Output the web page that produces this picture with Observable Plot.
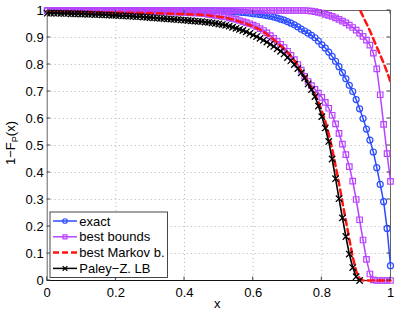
<!DOCTYPE html>
<html>
<head>
<meta charset="utf-8">
<script src="https://cdn.jsdelivr.net/npm/d3@7"></script>
<script src="https://cdn.jsdelivr.net/npm/@observablehq/plot@0.6"></script>
<style>
  html, body { margin: 0; padding: 0; background: #fff; }
</style>
</head>
<body>
<div id="chart"></div>
<script>
// ---- data ----
const xGrid = [0,0.01,0.02,0.03,0.04,0.05,0.06,0.07,0.08,0.09,
  0.1,0.11,0.12,0.13,0.14,0.15,0.16,0.17,0.18,0.19,
  0.2,0.21,0.22,0.23,0.24,0.25,0.26,0.27,0.28,0.29,
  0.3,0.31,0.32,0.33,0.34,0.35,0.36,0.37,0.38,0.39,
  0.4,0.41,0.42,0.43,0.44,0.45,0.46,0.47,0.48,0.49,
  0.5,0.51,0.52,0.53,0.54,0.55,0.56,0.57,0.58,0.59,
  0.6,0.61,0.62,0.63,0.64,0.65,0.66,0.67,0.68,0.69,
  0.7,0.71,0.72,0.73,0.74,0.75,0.76,0.77,0.78,0.79,
  0.8,0.81,0.82,0.83,0.84,0.85,0.86,0.87,0.88,0.89,
  0.9,0.91,0.92,0.93,0.94,0.95,0.96,0.97,0.98,0.99,1];

const exactY = [1,1,1,1,1,1,1,1,1,1,
  1,1,1,1,1,1,1,1,1,1,
  1,1,1,1,1,1,1,1,1,1,
  1,1,1,1,1,1,1,1,1,1,
  1,1,1,1,1,1,1,0.999,0.999,0.999,
  0.999,0.998,0.998,0.997,0.996,0.995,0.994,0.993,0.992,0.990,
  0.988,0.987,0.985,0.983,0.981,0.979,0.976,0.972,0.968,0.964,
  0.959,0.953,0.947,0.939,0.931,0.924,0.916,0.908,0.899,0.887,
  0.873,0.861,0.846,0.830,0.812,0.792,0.770,0.747,0.723,0.700,
  0.670,0.636,0.600,0.561,0.520,0.476,0.418,0.356,0.292,0.193,0.055];

const boundsUpperY = [1,1,1,1,1,1,1,1,1,1,
  1,1,1,1,1,1,1,1,1,1,
  1,1,1,1,1,1,1,1,1,1,
  1,1,1,1,1,1,1,1,1,1,
  1,1,1,1,1,1,1,1,1,1,
  1,1,1,1,1,1,1,1,1,1,
  1,1,1,1,1,1,1,1,1,1,
  1,1,1,1,1,1,0.999,0.998,0.996,0.993,
  0.990,0.986,0.982,0.978,0.973,0.967,0.961,0.954,0.946,0.937,
  0.927,0.916,0.904,0.890,0.872,0.842,0.784,0.688,0.578,0.470,0.367];

const boundsLowerY = [0.999,0.999,0.999,0.999,0.999,0.999,0.999,0.999,0.999,0.999,
  0.999,0.999,0.999,0.999,0.999,0.999,0.999,0.999,0.999,0.999,
  0.998,0.998,0.998,0.998,0.998,0.997,0.997,0.997,0.997,0.997,
  0.997,0.996,0.996,0.996,0.995,0.995,0.995,0.994,0.994,0.993,
  0.993,0.992,0.991,0.991,0.990,0.989,0.988,0.986,0.984,0.982,
  0.980,0.978,0.976,0.973,0.970,0.967,0.963,0.959,0.955,0.951,
  0.946,0.940,0.933,0.926,0.917,0.907,0.897,0.886,0.875,0.863,
  0.849,0.834,0.818,0.800,0.779,0.756,0.737,0.722,0.708,0.694,
  0.678,0.660,0.638,0.612,0.580,0.545,0.505,0.466,0.422,0.368,
  0.300,0.225,0.150,0.078,0.024,0.002,0,0,0,0,0];

const markovLowerY = [0.995,0.995,0.995,0.995,0.995,0.995,0.995,0.995,0.994,0.994,
  0.994,0.994,0.994,0.994,0.994,0.994,0.993,0.993,0.993,0.993,
  0.993,0.993,0.993,0.992,0.992,0.992,0.992,0.991,0.991,0.991,
  0.991,0.990,0.990,0.990,0.989,0.989,0.988,0.988,0.987,0.987,
  0.987,0.986,0.986,0.985,0.985,0.984,0.983,0.982,0.980,0.979,
  0.977,0.975,0.973,0.970,0.967,0.963,0.959,0.955,0.951,0.946,
  0.941,0.935,0.929,0.921,0.912,0.902,0.892,0.881,0.870,0.858,
  0.845,0.831,0.815,0.797,0.776,0.756,0.735,0.712,0.688,0.661,
  0.628,0.590,0.543,0.488,0.425,0.360,0.290,0.222,0.153,0.087,
  0.035,0.007,0,0,0,0,0,0,0,0,0];

// upper Markov bound: only its last stretch is inside the axes (values above 1 are clipped)
const markovUpperX = xGrid.slice(90);
const markovUpperY = [1.032,1.005,0.978,0.952,0.925,0.895,0.865,0.835,0.805,0.772,0.735];

// Paley–Zygmund lower bound, drawn up to x = 0.91
const paleyX = xGrid.slice(0, 92);
const paleyY = [0.990,0.990,0.990,0.990,0.989,0.989,0.989,0.988,0.988,0.988,
  0.987,0.987,0.986,0.986,0.985,0.985,0.984,0.984,0.983,0.982,
  0.982,0.981,0.980,0.980,0.979,0.978,0.977,0.977,0.976,0.975,
  0.974,0.973,0.972,0.971,0.970,0.969,0.968,0.967,0.966,0.965,
  0.964,0.963,0.962,0.961,0.960,0.959,0.957,0.956,0.954,0.952,
  0.950,0.948,0.945,0.942,0.938,0.934,0.930,0.926,0.921,0.915,
  0.909,0.903,0.897,0.890,0.883,0.875,0.867,0.858,0.849,0.839,
  0.826,0.814,0.800,0.785,0.769,0.750,0.728,0.707,0.681,0.646,
  0.607,0.565,0.515,0.450,0.377,0.303,0.232,0.163,0.098,0.048,
  0.014,0.000];

const seriesNames = ["exact", "best bounds", "best Markov b.", "Paley\u2212Z. LB"];
const xTicks = [0, 0.2, 0.4, 0.6, 0.8, 1];
const xTickLabels = ["0", "0.2", "0.4", "0.6", "0.8", "1"];
const yTicks = [0, 0.1, 0.2, 0.3, 0.4, 0.5, 0.6, 0.7, 0.8, 0.9, 1];
const yTickLabels = ["0", "0.1", "0.2", "0.3", "0.4", "0.5", "0.6", "0.7", "0.8", "0.9", "1"];

// ---- build tables ----
const rows = (xs, ys) => ys.map((y, i) => ({x: xs[i], y}));
const exact = rows(xGrid, exactY);
const boundsUpper = rows(xGrid, boundsUpperY);
const boundsLower = rows(xGrid, boundsLowerY);
const markovLower = rows(xGrid, markovLowerY);
const markovUpper = rows(markovUpperX, markovUpperY);
const paley = rows(paleyX, paleyY);

const C = {exact: "#2b4cff", bounds: "#b944ff", markov: "#ff1414", paley: "#000000"};
const gridStyle = {stroke: "#b4b4b4", strokeOpacity: 1, strokeWidth: 1, strokeDasharray: "1,3"};

const chart = Plot.plot({
  width: 399,
  height: 313,
  marginLeft: 46.7,
  marginRight: 9,
  marginTop: 10,
  marginBottom: 33,
  x: {domain: [0, 1]},
  y: {domain: [0, 1]},
  style: {fontFamily: "'Liberation Sans', Arial, sans-serif", fontSize: "13px", background: "#fff", color: "#000"},
  marks: [
    Plot.gridX(xTicks.slice(1, -1), gridStyle),
    Plot.gridY(yTicks.slice(1, -1), gridStyle),
    Plot.frame({stroke: "#666", strokeWidth: 1}),
    Plot.axisX(xTicks, {anchor: "bottom", tickSize: 0, tickPadding: 7, label: null,
      tickFormat: d => xTickLabels[xTicks.indexOf(d)]}),
    Plot.axisY(yTicks, {anchor: "left", tickSize: 0, tickPadding: 3.5, label: null,
      tickFormat: d => yTickLabels[yTicks.indexOf(d)]}),
    Plot.ruleY([0], {stroke: "#111", strokeWidth: 1.2}),
    // exact
    Plot.line(exact, {x: "x", y: "y", stroke: C.exact, strokeWidth: 1.5}),
    Plot.dot(exact, {x: "x", y: "y", symbol: "circle", r: 3, stroke: C.exact, fill: "none", strokeWidth: 1.2}),
    // best bounds (upper & lower)
    Plot.line(boundsUpper, {x: "x", y: "y", stroke: C.bounds, strokeWidth: 1.5}),
    Plot.dot(boundsUpper, {x: "x", y: "y", symbol: "square", r: 3.1, stroke: C.bounds, fill: "none", strokeWidth: 1.2}),
    Plot.line(boundsLower, {x: "x", y: "y", stroke: C.bounds, strokeWidth: 1.5}),
    Plot.dot(boundsLower, {x: "x", y: "y", symbol: "square", r: 3.1, stroke: C.bounds, fill: "none", strokeWidth: 1.2}),
    // best Markov bounds
    Plot.line(markovUpper, {x: "x", y: "y", stroke: C.markov, strokeWidth: 2.5, strokeDasharray: "6,4", clip: true}),
    Plot.line(markovLower, {x: "x", y: "y", stroke: C.markov, strokeWidth: 2.5, strokeDasharray: "6,4"}),
    // Paley–Zygmund lower bound
    Plot.line(paley, {x: "x", y: "y", stroke: C.paley, strokeWidth: 1.6}),
    Plot.dot(paley, {x: "x", y: "y", symbol: "times", r: 3, stroke: C.paley, strokeWidth: 1.3})
  ]
});

document.getElementById("chart").appendChild(chart);

// ---- MATLAB-like inward ticks, axis titles and legend ----
const svg = d3.select(chart);
const sx = chart.scale("x"), sy = chart.scale("y");
const X0 = sx.apply(0), X1 = sx.apply(1), Y0 = sy.apply(0), Y1 = sy.apply(1);
const tk = svg.append("g").style("stroke", "#444").style("stroke-width", "1px").style("fill", "none");
const tl = 3.5;
xTicks.forEach(v => {
  const px = sx.apply(v);
  tk.append("line").attr("x1", px).attr("x2", px).attr("y1", Y0).attr("y2", Y0 - tl);
  tk.append("line").attr("x1", px).attr("x2", px).attr("y1", Y1).attr("y2", Y1 + tl);
});
yTicks.forEach(v => {
  const py = sy.apply(v);
  tk.append("line").attr("y1", py).attr("y2", py).attr("x1", X0).attr("x2", X0 + tl);
  tk.append("line").attr("y1", py).attr("y2", py).attr("x1", X1).attr("x2", X1 - tl);
});

// x label
svg.append("text").attr("x", (X0 + X1) / 2 - 1).attr("y", 307.5)
  .style("text-anchor", "middle").style("fill", "#000").style("font-size", "13px").text("x");

// y label 1−F_P(x)
const yl = svg.append("text").attr("transform", `translate(14.5,${(Y0 + Y1) / 2 - 2}) rotate(-90)`)
  .style("text-anchor", "middle").style("fill", "#000").style("font-size", "13px");
yl.append("tspan").text("1\u2212F");
yl.append("tspan").style("font-size", "9px").attr("dy", 3).text("P");
yl.append("tspan").attr("dy", -3).text("(x)");

// legend
const lg = svg.append("g");
lg.append("rect").attr("x", 50).attr("y", 212).attr("width", 117.5).attr("height", 65.5)
  .style("fill", "#ffffff").style("stroke", "#333").style("stroke-width", "0.9px");
const legendSpec = [
  {name: seriesNames[0], color: C.exact, sym: d3.symbolCircle, dash: "none", w: 1.5},
  {name: seriesNames[1], color: C.bounds, sym: d3.symbolSquare, dash: "none", w: 1.5},
  {name: seriesNames[2], color: C.markov, sym: null, dash: "6,3", w: 2.5},
  {name: seriesNames[3], color: C.paley, sym: d3.symbolTimes, dash: "none", w: 1.5}
];
legendSpec.forEach((s, i) => {
  const cy = 221 + i * 15.8;
  lg.append("line").attr("x1", 53).attr("x2", 77).attr("y1", cy).attr("y2", cy)
    .style("stroke", s.color).style("stroke-width", s.w + "px").style("stroke-dasharray", s.dash);
  if (s.sym) {
    lg.append("path").attr("d", d3.symbol(s.sym, 16)())
      .attr("transform", `translate(65,${cy})`)
      .style("fill", "none").style("stroke", s.color).style("stroke-width", "1.2px");
  }
  lg.append("text").attr("x", 79.3).attr("y", cy).attr("dy", "0.35em")
    .style("text-anchor", "start").style("fill", "#000").style("font-size", "13px").text(s.name);
});
</script>
</body>
</html>
